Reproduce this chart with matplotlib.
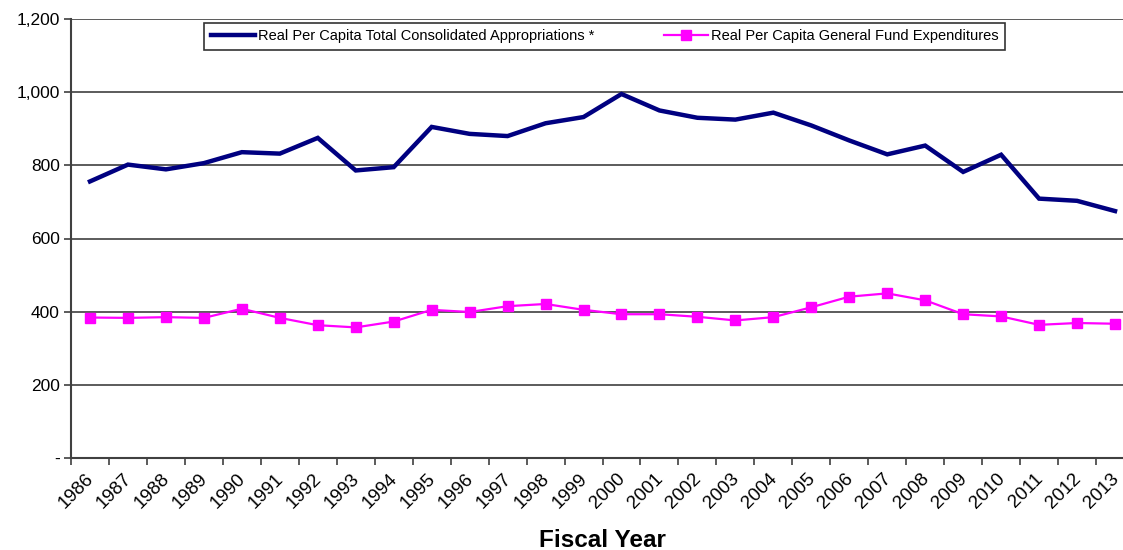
import matplotlib
matplotlib.use("Agg")
import matplotlib.pyplot as plt
import matplotlib.transforms as mtransforms
from matplotlib.ticker import FixedLocator, NullFormatter, FixedFormatter

plt.rcParams['font.family'] = ['Liberation Sans', 'DejaVu Sans']

# Datos
years = [str(y) for y in range(1986, 2014)]
consolidated = [756, 802, 789, 806, 836, 832, 875, 786, 795, 905, 886, 880, 915, 932,
                995, 950, 930, 925, 944, 909, 868, 830, 854, 782, 829, 709, 703, 675]
general_fund = [384, 383, 385, 383, 408, 383, 363, 357, 373, 405, 399, 415, 421, 405,
                393, 393, 386, 376, 385, 412, 441, 450, 431, 393, 387, 364, 369, 367]
y_ticks = [0, 200, 400, 600, 800, 1000, 1200]
y_labels = ['-', '200', '400', '600', '800', '1,000', '1,200']

W, H = 1123, 550
fig = plt.figure(figsize=(W / 100, H / 100), dpi=100)
ax = fig.add_axes([71 / W, (H - 458) / H, (1134 - 71) / W, (458 - 19) / H])

x = list(range(len(years)))
ax.plot(x, consolidated, color='#000080', lw=3.2, solid_joinstyle='miter',
        label='Real Per Capita Total Consolidated Appropriations *')
ax.plot(x, general_fund, color='#FF00FF', lw=1.6, marker='s', markersize=6.5,
        label='Real Per Capita General Fund Expenditures')

ax.set_xlim(-0.5, len(years) - 0.5)
ax.set_ylim(0, 1200)

# ticks en los limites de categoria, etiquetas en el centro
ax.xaxis.set_major_locator(FixedLocator([i - 0.5 for i in range(len(years) + 1)]))
ax.xaxis.set_major_formatter(NullFormatter())
ax.xaxis.set_minor_locator(FixedLocator(x))
ax.xaxis.set_minor_formatter(FixedFormatter(years))
ax.tick_params(axis='x', which='major', direction='out', length=5, width=1.2, color='#404040')
ax.tick_params(axis='x', which='minor', length=0, labelsize=13.5, pad=9)
shift = mtransforms.ScaledTranslation(-5 / 100, 0, fig.dpi_scale_trans)
for lbl in ax.xaxis.get_minorticklabels():
    lbl.set_rotation(45)
    lbl.set_ha('right')
    lbl.set_rotation_mode('anchor')
    lbl.set_transform(lbl.get_transform() + shift)

ax.set_yticks(y_ticks)
ax.set_yticklabels(y_labels)
ax.tick_params(axis='y', direction='out', length=5, width=1.2, color='#404040',
               labelsize=12.5, pad=3)

ax.yaxis.grid(True, color='#404040', lw=1.2)
ax.set_axisbelow(True)
for s in ['top', 'right']:
    ax.spines[s].set_visible(False)
for s in ['left', 'bottom']:
    ax.spines[s].set_color('#404040')
    ax.spines[s].set_linewidth(1.5)

ax.set_xlabel('Fiscal Year', fontsize=17.5, fontweight='bold', labelpad=12)

leg = ax.legend(loc='upper center', bbox_to_anchor=(0.502, 0.992), ncol=2,
                frameon=True, fancybox=False, edgecolor='black', fontsize=10.5,
                handlelength=3.0, handletextpad=0.2, columnspacing=4.8,
                borderpad=0.45, borderaxespad=0)
leg.get_frame().set_linewidth(1.2)

plt.savefig('out.png', dpi=100)
